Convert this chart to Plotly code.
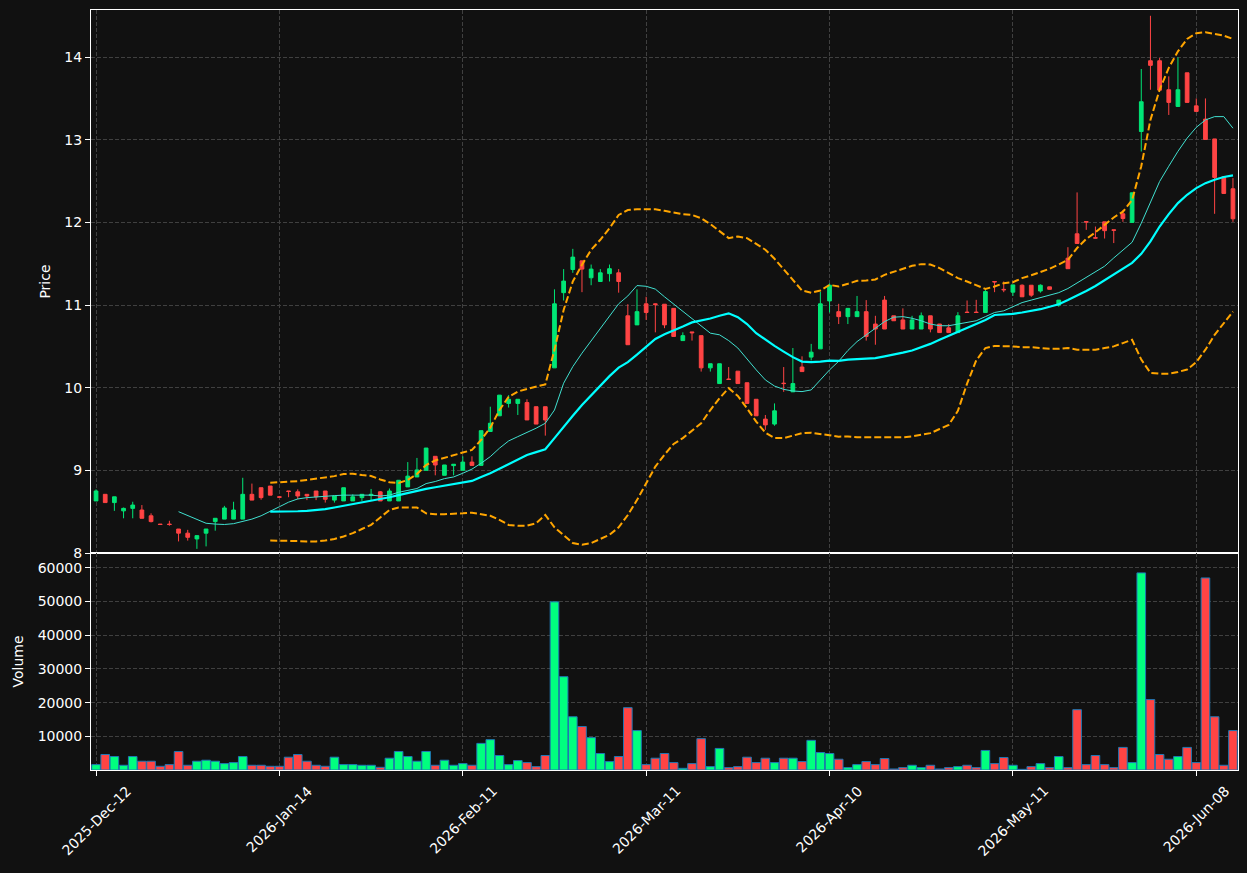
import plotly.graph_objects as go

# ---------------- data ----------------
tick_idx = [0, 20, 40, 60, 80, 100, 120]
tick_labels = ["2025-Dec-12", "2026-Jan-14", "2026-Feb-11", "2026-Mar-11",
               "2026-Apr-10", "2026-May-11", "2026-Jun-08"]

open_ = [8.63, 8.71, 8.61, 8.51, 8.54, 8.52, 8.45, 8.35, 8.35, 8.29,
         8.24, 8.17, 8.24, 8.38, 8.41, 8.41, 8.41, 8.71, 8.79, 8.81,
         8.68, 8.75, 8.74, 8.71, 8.75, 8.75, 8.64, 8.63, 8.63, 8.67,
         8.695, 8.74, 8.63, 8.63, 8.80, 8.92, 9.00, 9.17, 8.94, 9.057,
         9.00, 9.10, 9.06, 9.47, 9.66, 9.81, 9.81, 9.82, 9.77, 9.77,
         10.24, 11.15, 11.43, 11.535, 11.33, 11.285, 11.38, 11.39, 10.87, 10.76,
         11.015, 11.015, 11.01, 10.96, 10.57, 10.675, 10.63, 10.24, 10.05, 10.105,
         10.20, 10.06, 9.86, 9.62, 9.56, 10.055, 9.95, 10.25, 10.37, 10.47,
         11.05, 10.92, 10.86, 10.86, 10.92, 10.77, 11.06, 10.87, 10.82, 10.71,
         10.71, 10.87, 10.77, 10.724, 10.667, 10.915, 10.915, 10.91, 11.285, 11.19,
         11.156, 11.24, 11.24, 11.17, 11.22, 11.00, 11.567, 11.862, 12.01, 11.815,
         12.007, 11.91, 12.104, 12.0, 13.10, 13.956, 13.956, 13.605, 13.403, 13.81,
         13.41, 13.25, 13.01, 12.552, 12.407]
high = [8.77, 8.71, 8.68, 8.55, 8.62, 8.58, 8.48, 8.35, 8.39, 8.29,
        8.28, 8.21, 8.29, 8.42, 8.57, 8.62, 8.91, 8.84, 8.79, 8.81,
        8.69, 8.75, 8.77, 8.71, 8.75, 8.75, 8.69, 8.79, 8.71, 8.71,
        8.775, 8.75, 8.78, 8.88, 9.10, 9.15, 9.27, 9.17, 9.065, 9.074,
        9.17, 9.17, 9.48, 9.77, 9.91, 9.91, 9.86, 9.86, 9.77, 9.77,
        11.19, 11.435, 11.68, 11.535, 11.49, 11.435, 11.49, 11.435, 11.01, 11.19,
        11.10, 11.02, 11.01, 10.96, 10.67, 10.675, 10.63, 10.29, 10.29, 10.25,
        10.20, 10.06, 9.86, 9.67, 9.81, 10.25, 10.48, 10.38, 10.53, 11.16,
        11.26, 11.015, 10.96, 11.11, 11.06, 10.87, 11.11, 10.87, 10.96, 10.87,
        10.91, 10.87, 10.77, 10.77, 10.914, 11.055, 11.063, 11.19, 11.285, 11.285,
        11.244, 11.25, 11.24, 11.25, 11.22, 11.06, 11.70, 12.363, 12.01, 11.95,
        12.007, 11.91, 12.15, 12.36, 13.856, 14.50, 13.99, 13.767, 13.997, 13.81,
        13.50, 13.50, 13.01, 12.552, 12.536]
low = [8.63, 8.61, 8.51, 8.42, 8.42, 8.42, 8.37, 8.345, 8.33, 8.14,
       8.15, 8.05, 8.08, 8.27, 8.41, 8.41, 8.41, 8.64, 8.645, 8.70,
       8.67, 8.675, 8.65, 8.64, 8.64, 8.61, 8.61, 8.63, 8.63, 8.63,
       8.64, 8.63, 8.63, 8.63, 8.80, 8.92, 9.00, 8.94, 8.94, 8.94,
       9.00, 9.06, 9.06, 9.47, 9.66, 9.76, 9.67, 9.61, 9.56, 9.42,
       10.24, 11.055, 11.39, 11.156, 11.24, 11.285, 11.285, 11.15, 10.52, 10.76,
       10.82, 10.67, 10.72, 10.62, 10.57, 10.57, 10.195, 10.195, 10.05, 10.10,
       10.05, 9.81, 9.66, 9.49, 9.54, 9.95, 9.95, 10.195, 10.33, 10.47,
       10.91, 10.77, 10.77, 10.86, 10.57, 10.52, 10.71, 10.81, 10.71, 10.71,
       10.71, 10.67, 10.667, 10.667, 10.667, 10.91, 10.91, 10.91, 11.156, 11.156,
       11.11, 11.10, 11.10, 11.15, 11.19, 10.98, 11.44, 11.745, 11.91, 11.81,
       11.805, 11.75, 12.007, 12.0, 12.858, 13.605, 13.60, 13.30, 13.403, 13.452,
       13.343, 13.004, 12.104, 12.35, 12.007]
close = [8.75, 8.61, 8.68, 8.54, 8.58, 8.42, 8.38, 8.345, 8.345, 8.24,
         8.19, 8.21, 8.29, 8.42, 8.545, 8.52, 8.71, 8.64, 8.67, 8.70,
         8.675, 8.745, 8.69, 8.69, 8.68, 8.65, 8.69, 8.79, 8.68, 8.71,
         8.71, 8.63, 8.75, 8.88, 8.93, 9.005, 9.27, 9.065, 9.065, 9.074,
         9.10, 9.06, 9.48, 9.57, 9.91, 9.86, 9.86, 9.61, 9.56, 9.61,
         11.015, 11.29, 11.58, 11.435, 11.435, 11.39, 11.44, 11.285, 10.52, 10.92,
         10.91, 11.005, 10.76, 10.62, 10.63, 10.665, 10.24, 10.29, 10.29, 10.10,
         10.05, 9.81, 9.66, 9.55, 9.72, 10.05, 10.05, 10.195, 10.43, 11.015,
         11.24, 10.86, 10.96, 10.92, 10.62, 10.71, 10.71, 10.81, 10.71, 10.82,
         10.87, 10.71, 10.667, 10.667, 10.87, 10.91, 10.91, 11.163, 11.28, 11.185,
         11.244, 11.10, 11.12, 11.24, 11.19, 11.06, 11.44, 11.745, 12.005, 11.81,
         11.90, 11.905, 12.047, 12.358, 13.46, 13.90, 13.60, 13.452, 13.605, 13.452,
         13.343, 13.004, 12.544, 12.35, 12.044]

volume = [1600, 4600, 4000, 1400, 4000, 2600, 2600, 1100, 1600, 5500,
          1400, 2600, 2900, 2600, 1900, 2200, 4000, 1400, 1400, 1100,
          1100, 3800, 4600, 2600, 1400, 1100, 3800, 1600, 1600, 1400,
          1400, 800, 3500, 5500, 4000, 2600, 5500, 1400, 2900, 1400,
          1900, 1400, 7900, 9000, 4300, 1600, 2800, 2200, 1000, 4300,
          49900, 27700, 15800, 12900, 9600, 4900, 2500, 4000, 18500, 11700,
          1600, 3500, 4900, 2200, 500, 1900, 9300, 1000, 6400, 700,
          1000, 3800, 2200, 3500, 2200, 3500, 3500, 2500, 8800, 5200,
          4900, 3200, 700, 1600, 2500, 1600, 3400, 300, 700, 1400,
          700, 1400, 300, 700, 1000, 1400, 700, 5800, 1900, 3700,
          1400, 200, 1000, 1900, 700, 4000, 700, 17900, 1600, 4300,
          1600, 700, 6700, 2200, 58500, 20900, 4600, 3200, 4000, 6700,
          2200, 57000, 15800, 1400, 11700]

N = None
ma_short = [N] * 9 + [
    8.50, 8.45, 8.40, 8.36, 8.35, 8.345, 8.355, 8.38, 8.41, 8.45,
    8.51, 8.56, 8.615, 8.654, 8.67, 8.68, 8.69, 8.694, 8.70, 8.70,
    8.70, 8.70, 8.69, 8.70, 8.735, 8.755, 8.78, 8.84, 8.865, 8.90,
    8.92, 8.965, 9.015, 9.086, 9.166, 9.268, 9.356, 9.408, 9.457, 9.51,
    9.57, 9.73, 10.054, 10.255, 10.418, 10.57, 10.72, 10.86, 11.015, 11.11,
    11.236, 11.227, 11.193, 11.10, 11.01, 10.92, 10.83, 10.74, 10.66, 10.64,
    10.57, 10.48, 10.345, 10.216, 10.094, 10.02, 9.98, 9.96, 9.953, 9.973,
    10.094, 10.215, 10.32, 10.45, 10.558, 10.64, 10.72, 10.80, 10.853, 10.86,
    10.84, 10.81, 10.77, 10.75, 10.75, 10.77, 10.79, 10.81, 10.86, 10.91,
    10.93, 10.98, 11.03, 11.06, 11.09, 11.12, 11.15, 11.20, 11.27, 11.33,
    11.40, 11.47, 11.57, 11.66, 11.76, 11.99, 12.25, 12.495, 12.68, 12.86,
    13.02, 13.15, 13.24, 13.28, 13.28, 13.14]
ma_long = [N] * 19 + [
    8.50, 8.50, 8.50, 8.505, 8.51, 8.52, 8.53, 8.55, 8.57, 8.59,
    8.61, 8.63, 8.65, 8.675, 8.70, 8.727, 8.754, 8.775, 8.795, 8.815,
    8.835, 8.852, 8.872, 8.92, 8.965, 9.02, 9.077, 9.13, 9.186, 9.22,
    9.255, 9.39, 9.53, 9.66, 9.79, 9.91, 10.03, 10.14, 10.243, 10.31,
    10.40, 10.50, 10.59, 10.648, 10.69, 10.74, 10.79, 10.81, 10.837, 10.87,
    10.90, 10.853, 10.77, 10.66, 10.58, 10.506, 10.437, 10.37, 10.316, 10.31,
    10.316, 10.328, 10.325, 10.34, 10.345, 10.35, 10.357, 10.38, 10.40, 10.425,
    10.45, 10.49, 10.53, 10.58, 10.627, 10.675, 10.72, 10.77, 10.82, 10.88,
    10.885, 10.893, 10.91, 10.93, 10.95, 10.98, 11.01, 11.06, 11.11, 11.17,
    11.23, 11.30, 11.36, 11.43, 11.51, 11.62, 11.77, 11.95, 12.10, 12.234,
    12.334, 12.415, 12.475, 12.516, 12.55, 12.57]
bb_upper = [N] * 19 + [
    8.85, 8.855, 8.86, 8.87, 8.884, 8.897, 8.91, 8.93, 8.956, 8.96,
    8.944, 8.932, 8.89, 8.856, 8.847, 8.884, 8.956, 9.065, 9.12, 9.154,
    9.19, 9.215, 9.247, 9.368, 9.517, 9.73, 9.89, 9.953, 9.985, 10.013,
    10.04, 10.458, 10.94, 11.285, 11.487, 11.668, 11.79, 11.93, 12.09, 12.15,
    12.16, 12.16, 12.16, 12.14, 12.12, 12.10, 12.09, 12.05, 11.98, 11.89,
    11.81, 11.83, 11.81, 11.74, 11.67, 11.56, 11.43, 11.305, 11.176, 11.15,
    11.176, 11.244, 11.224, 11.257, 11.293, 11.297, 11.31, 11.366, 11.405, 11.435,
    11.475, 11.495, 11.49, 11.447, 11.386, 11.326, 11.285, 11.236, 11.196, 11.224,
    11.265, 11.277, 11.326, 11.36, 11.40, 11.44, 11.49, 11.547, 11.69, 11.80,
    11.88, 11.97, 12.06, 12.13, 12.27, 12.68, 13.24, 13.605, 13.87, 14.07,
    14.22, 14.29, 14.30, 14.28, 14.26, 14.22]
bb_lower = [N] * 19 + [
    8.15, 8.15, 8.15, 8.145, 8.14, 8.14, 8.15, 8.17, 8.20, 8.24,
    8.29, 8.34, 8.43, 8.52, 8.55, 8.553, 8.55, 8.48, 8.47, 8.47,
    8.472, 8.48, 8.488, 8.47, 8.45, 8.40, 8.34, 8.33, 8.33, 8.36,
    8.46, 8.31, 8.22, 8.12, 8.10, 8.12, 8.17, 8.22, 8.31, 8.46,
    8.64, 8.84, 9.045, 9.19, 9.32, 9.39, 9.48, 9.57, 9.73, 9.873,
    9.994, 9.90, 9.75, 9.59, 9.456, 9.39, 9.39, 9.416, 9.45, 9.456,
    9.44, 9.416, 9.408, 9.41, 9.40, 9.40, 9.40, 9.40, 9.40, 9.40,
    9.41, 9.43, 9.45, 9.50, 9.55, 9.72, 10.05, 10.33, 10.48, 10.505,
    10.506, 10.50, 10.49, 10.49, 10.48, 10.47, 10.47, 10.48, 10.46, 10.46,
    10.46, 10.48, 10.50, 10.54, 10.58, 10.34, 10.18, 10.17, 10.17, 10.19,
    10.22, 10.31, 10.46, 10.64, 10.78, 10.92]

# ---------------- styling ----------------
BG = "#111111"
GREEN_C = "#00e676"
RED_C = "#ff4444"
GREEN_V = "#00ff7f"
RED_V = "#ff4444"
FONT = "DejaVu Sans"
FS = 14

x = list(range(len(close)))
vol_colors = [GREEN_V if c >= o else RED_V for o, c in zip(open_, close)]

fig = go.Figure()
fig.add_trace(go.Candlestick(
    x=x, open=open_, high=high, low=low, close=close,
    increasing=dict(line=dict(color=GREEN_C, width=1), fillcolor=GREEN_C),
    decreasing=dict(line=dict(color=RED_C, width=1), fillcolor=RED_C),
    xaxis="x", yaxis="y", showlegend=False))
fig.add_trace(go.Scatter(x=x, y=bb_upper, mode="lines",
                         line=dict(color="#ffa500", width=2, dash="7px,3px"),
                         xaxis="x", yaxis="y", showlegend=False))
fig.add_trace(go.Scatter(x=x, y=bb_lower, mode="lines",
                         line=dict(color="#ffa500", width=2, dash="7px,3px"),
                         xaxis="x", yaxis="y", showlegend=False))
fig.add_trace(go.Scatter(x=x, y=ma_short, mode="lines",
                         line=dict(color="#40e0d0", width=1),
                         xaxis="x", yaxis="y", showlegend=False))
fig.add_trace(go.Scatter(x=x, y=ma_long, mode="lines",
                         line=dict(color="#00ffff", width=2.2),
                         xaxis="x", yaxis="y", showlegend=False))
fig.add_trace(go.Bar(x=x, y=volume, marker=dict(color=vol_colors,
                     line=dict(color="#1f77b4", width=1)),
                     xaxis="x2", yaxis="y2", showlegend=False))

axis_common = dict(showline=True, linecolor="white", linewidth=1, mirror=True,
                   showgrid=True, gridcolor="#404040", griddash="4px,2px", gridwidth=1,
                   zeroline=False, tickfont=dict(family=FONT, size=FS, color="white"),
                   tickcolor="white", ticklen=5, tickwidth=1)
split = (770 - 553) / 760.0

# rotated date labels centred under their ticks (as in the reference)
annotations = [dict(x=i, y=0, xref="x2", yref="paper", text=t, showarrow=False,
                    textangle=-45, xanchor="center", yanchor="top", yshift=-10,
                    font=dict(family=FONT, size=FS, color="white"))
               for i, t in zip(tick_idx, tick_labels)]

fig.update_layout(
    width=1247, height=873,
    paper_bgcolor=BG, plot_bgcolor=BG,
    margin=dict(l=91, r=9, t=10, b=103, autoexpand=False),
    font=dict(family=FONT, color="white"),
    boxgap=0.42, bargap=0.06,
    annotations=annotations,
    xaxis=dict(axis_common, domain=[0, 1], anchor="y", matches="x2",
               range=[-0.55, 124.55], tickvals=tick_idx,
               showticklabels=False, ticks="", rangeslider=dict(visible=False)),
    yaxis=dict(axis_common, domain=[split, 1], anchor="x", range=[8, 14.57],
               dtick=1, tick0=8, ticks="outside",
               title=dict(text="Price", font=dict(family=FONT, size=FS, color="white"), standoff=10)),
    xaxis2=dict(axis_common, domain=[0, 1], anchor="y2", range=[-0.55, 124.55],
                tickvals=tick_idx, showticklabels=False, ticks="outside"),
    yaxis2=dict(axis_common, domain=[0, split], anchor="x2", range=[0, 64400],
                tickvals=[10000, 20000, 30000, 40000, 50000, 60000],
                ticktext=["10000", "20000", "30000", "40000", "50000", "60000"],
                ticks="outside",
                title=dict(text="Volume", font=dict(family=FONT, size=FS, color="white"), standoff=10)),
)

fig.write_html("out.html")
